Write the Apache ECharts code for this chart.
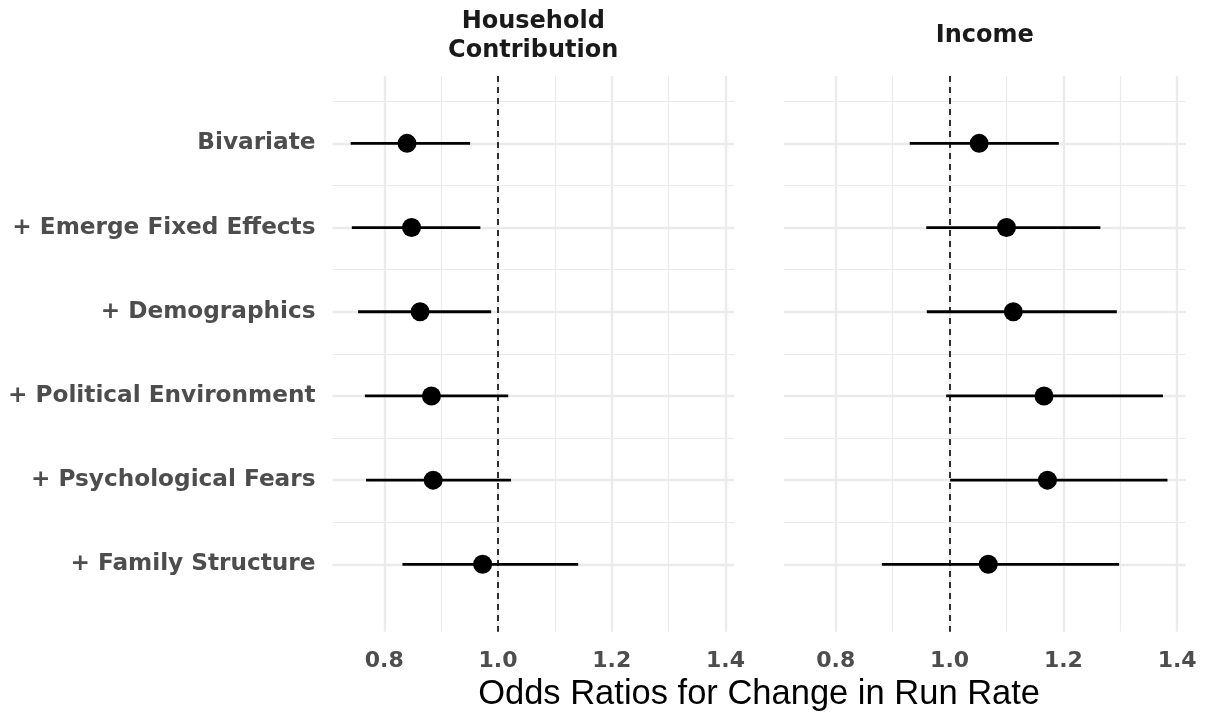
<!DOCTYPE html>
<html>
<head>
<meta charset="utf-8">
<script src="https://cdn.jsdelivr.net/npm/echarts@6/dist/echarts.min.js"></script>
<style>
  html, body { margin: 0; padding: 0; background: #ffffff; }
  #chart { width: 1207px; height: 715px; }
</style>
</head>
<body>
<div id="chart"></div>
<script>
// Model specifications, top to bottom
const models = [
  'Bivariate',
  '+ Emerge Fixed Effects',
  '+ Demographics',
  '+ Political Environment',
  '+ Psychological Fears',
  '+ Family Structure'
];

// Household contribution: odds ratio and 95% interval
const householdEst  = [0.840, 0.848, 0.863, 0.883, 0.886, 0.973];
const householdLow  = [0.741, 0.743, 0.754, 0.766, 0.768, 0.832];
const householdHigh = [0.951, 0.969, 0.988, 1.018, 1.023, 1.141];

// Income: odds ratio and 95% interval
const incomeEst  = [1.052, 1.100, 1.112, 1.166, 1.172, 1.068];
const incomeLow  = [0.930, 0.959, 0.960, 0.994, 1.001, 0.881];
const incomeHigh = [1.192, 1.265, 1.294, 1.375, 1.383, 1.298];

const panelTitles = ['Household\nContribution', 'Income'];
const xTickValues = [0.8, 1.0, 1.2, 1.4];
const xMinorValues = [0.9, 1.1, 1.3];
const rowPositions = [1, 2, 3, 4, 5, 6];
const rowMinorPositions = [0.5, 1.5, 2.5, 3.5, 4.5, 5.5];
const referenceValue = 1.0;
const xTitle = 'Odds Ratios for Change in Run Rate';

const BOLD = '"DejaVu Sans", sans-serif';
const REG = '"Liberation Sans", Arial, sans-serif';
const GRID_COLOR = '#ebebeb';
const BAR_WIDTH = 2.8;

const grids = [
  { left: 332.5, top: 76, width: 401.5, height: 555.7 },
  { left: 784, top: 76, width: 401.7, height: 555.7 }
];

function gridLines() {
  const items = [];
  xTickValues.forEach(v => items.push({ xAxis: v, lineStyle: { color: GRID_COLOR, width: 2.4, type: 'solid' } }));
  xMinorValues.forEach(v => items.push({ xAxis: v, lineStyle: { color: GRID_COLOR, width: 1.2, type: 'solid' } }));
  rowPositions.forEach(v => items.push({ yAxis: v, lineStyle: { color: GRID_COLOR, width: 2.4, type: 'solid' } }));
  rowMinorPositions.forEach(v => items.push({ yAxis: v, lineStyle: { color: GRID_COLOR, width: 1.2, type: 'solid' } }));
  return items;
}

function panelSeries(idx, est, low, high) {
  const intervals = rowPositions.map((r, i) => [low[i], high[i], r]);
  const points = rowPositions.map((r, i) => [est[i], r]);
  return [
    {
      // panel grid (major and minor)
      type: 'line', xAxisIndex: idx, yAxisIndex: idx, data: [], z: 1, silent: true,
      markLine: { z: 1, silent: true, symbol: ['none', 'none'], label: { show: false }, animation: false, data: gridLines() }
    },
    {
      // reference line at an odds ratio of one
      type: 'line', xAxisIndex: idx, yAxisIndex: idx, data: [], z: 2, silent: true,
      markLine: {
        z: 2, silent: true, symbol: ['none', 'none'], label: { show: false }, animation: false,
        data: [{ xAxis: referenceValue, lineStyle: { color: '#000000', width: 1.6, type: [6, 5], opacity: 1 } }]
      }
    },
    {
      // confidence interval bars
      type: 'custom', xAxisIndex: idx, yAxisIndex: idx, z: 10, silent: true,
      data: intervals,
      itemStyle: { color: '#000000', opacity: 1 },
      renderItem: function (params, api) {
        const a = api.coord([api.value(0), api.value(2)]);
        const b = api.coord([api.value(1), api.value(2)]);
        return {
          type: 'rect',
          shape: { x: a[0], y: a[1] - BAR_WIDTH / 2, width: b[0] - a[0], height: BAR_WIDTH },
          style: { fill: '#000000', stroke: null, opacity: 1 }
        };
      }
    },
    {
      type: 'scatter', xAxisIndex: idx, yAxisIndex: idx, z: 11, silent: true,
      symbol: 'circle', symbolSize: 19,
      itemStyle: { color: '#000000', opacity: 1 },
      data: points
    }
  ];
}

function xAxisFor(idx) {
  return {
    type: 'value', gridIndex: idx, min: 0.709, max: 1.415,
    axisLine: { show: false }, axisTick: { show: false }, splitLine: { show: false },
    axisLabel: {
      customValues: xTickValues,
      formatter: v => v.toFixed(1),
      fontFamily: BOLD, fontWeight: 'bold', fontSize: 22, color: '#4d4d4d', margin: 19
    }
  };
}

function yAxisFor(idx) {
  return {
    type: 'value', gridIndex: idx, inverse: true, min: 0.2, max: 6.8,
    axisLine: { show: false }, axisTick: { show: false }, splitLine: { show: false },
    axisLabel: {
      show: idx === 0,
      customValues: rowPositions,
      formatter: v => models[Math.round(v) - 1] || '',
      fontFamily: BOLD, fontWeight: 'bold', fontSize: 23.2, color: '#4d4d4d', margin: 17
    }
  };
}

const chart = echarts.init(document.getElementById('chart'), null, { renderer: 'canvas' });
chart.setOption({
  backgroundColor: '#ffffff',
  animation: false,
  grid: grids,
  xAxis: [xAxisFor(0), xAxisFor(1)],
  yAxis: [yAxisFor(0), yAxisFor(1)],
  series: [
    ...panelSeries(0, householdEst, householdLow, householdHigh),
    ...panelSeries(1, incomeEst, incomeLow, incomeHigh)
  ],
  graphic: [
    {
      type: 'text', x: grids[0].left + grids[0].width / 2, y: 36,
      style: { text: panelTitles[0], align: 'center', verticalAlign: 'middle',
        font: 'bold 24px ' + BOLD, fill: '#1a1a1a', lineHeight: 29 }
    },
    {
      type: 'text', x: grids[1].left + grids[1].width / 2, y: 36,
      style: { text: panelTitles[1], align: 'center', verticalAlign: 'middle',
        font: 'bold 24px ' + BOLD, fill: '#1a1a1a', lineHeight: 29 }
    },
    {
      type: 'text', x: (grids[0].left + grids[1].left + grids[1].width) / 2, y: 694,
      style: { text: xTitle, align: 'center', verticalAlign: 'middle',
        font: '34.5px ' + REG, fill: '#000000' }
    }
  ]
});
</script>
</body>
</html>
